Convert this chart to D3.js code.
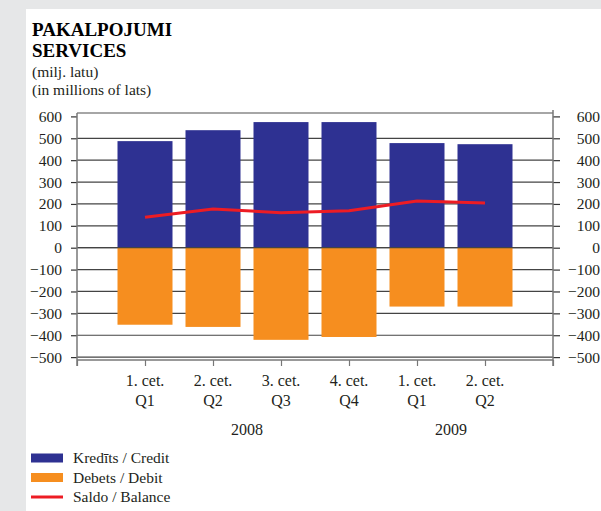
<!DOCTYPE html>
<html>
<head>
<meta charset="utf-8">
<script src="https://cdn.jsdelivr.net/npm/d3@7"></script>
<style>
    body { margin: 0; background: #e6e7e8; }
    svg { display: block; font-family: "Liberation Serif", "DejaVu Serif", serif; }
</style>
</head>
<body>
<svg id="chart" width="601" height="511"></svg>
<script>
// data
const quarters = ['1. cet.', '2. cet.', '3. cet.', '4. cet.', '1. cet.', '2. cet.'];
const quarterEn = ['Q1', 'Q2', 'Q3', 'Q4', 'Q1', 'Q2'];
const years = ['2008', '2009'];
const yearSpan = [[0, 3], [4, 5]];
const credit = [487, 537, 574, 574, 478, 473];
const debit = [-352, -362, -421, -408, -269, -269];
const balance = [139, 177, 160, 169, 213, 204];
const yTicks = [600, 500, 400, 300, 200, 100, 0, -100, -200, -300, -400, -500];
const legendLabels = ['Kredīts / Credit', 'Debets / Debit', 'Saldo / Balance'];
const colors = ['#2e3192', '#f68e1f', '#ed1c24'];

const svg = d3.select('#chart');
const serif = '"Liberation Serif", "DejaVu Serif", serif';

// white panel
svg.append('rect').attr('x', 26).attr('y', 9).attr('width', 575).attr('height', 502).attr('fill', '#fff');

svg.append('text').attr('x', 32).attr('y', 36).attr('font-size', 19).attr('font-weight', 'bold').text('PAKALPOJUMI');
svg.append('text').attr('x', 32).attr('y', 57).attr('font-size', 19).attr('font-weight', 'bold').text('SERVICES');
svg.append('text').attr('x', 32).attr('y', 77).attr('font-size', 15.5).attr('fill', '#231f20').text('(milj. latu)');
svg.append('text').attr('x', 32).attr('y', 95).attr('font-size', 15.5).attr('fill', '#231f20').text('(in millions of lats)');

const plotL = 77, plotR = 553, plotT = 113, plotB = 360;

const x = d3.scaleLinear().domain([0, quarters.length + 1]).range([plotL, plotR]);
const y = d3.scaleLinear().domain([0, 600]).range([247.7, 116.4]);
const barW = 55;

// gridlines
svg.append('g').selectAll('line').data(yTicks.filter(d => d !== 600)).enter().append('line')
    .attr('x1', plotL).attr('x2', plotR)
    .attr('y1', d => y(d)).attr('y2', d => y(d))
    .attr('stroke', '#444').attr('stroke-width', 1.2);

// frame top + bottom
svg.append('line').attr('x1', plotL).attr('x2', plotR).attr('y1', plotT).attr('y2', plotT)
    .attr('stroke', '#888').attr('stroke-width', 1.5);
svg.append('line').attr('x1', plotL).attr('x2', plotR).attr('y1', plotB).attr('y2', plotB)
    .attr('stroke', '#777').attr('stroke-width', 1.5);

// bars
svg.append('g').selectAll('rect').data(credit).enter().append('rect')
    .attr('x', (d, i) => x(i + 1) - barW / 2).attr('width', barW)
    .attr('y', d => y(d)).attr('height', d => y(0) - y(d))
    .attr('fill', colors[0]);
svg.append('g').selectAll('rect').data(debit).enter().append('rect')
    .attr('x', (d, i) => x(i + 1) - barW / 2).attr('width', barW)
    .attr('y', y(0)).attr('height', d => y(d) - y(0))
    .attr('fill', colors[1]);

// zero line on top of bars
svg.append('line').attr('x1', plotL).attr('x2', plotR).attr('y1', y(0)).attr('y2', y(0))
    .attr('stroke', '#444').attr('stroke-width', 1.2);

// balance line
const line = d3.line().x((d, i) => x(i + 1)).y(d => y(d));
svg.append('path').datum(balance).attr('d', line)
    .attr('fill', 'none').attr('stroke', colors[2]).attr('stroke-width', 3);

// y axes, both sides
const fmt = d => d < 0 ? '\u2212' + Math.abs(d) : String(d);
const yAxisL = svg.append('g').attr('transform', 'translate(' + plotL + ',0)')
    .call(d3.axisLeft(y).tickValues(yTicks).tickSize(6).tickPadding(9).tickFormat(fmt));
const yAxisR = svg.append('g').attr('transform', 'translate(' + plotR + ',0)')
    .call(d3.axisRight(y).tickValues(yTicks).tickSize(7).tickPadding(0).tickFormat(fmt));
[yAxisL, yAxisR].forEach(g => {
    g.attr('font-family', serif).attr('font-size', 15.5);
    g.select('.domain').remove();
    g.selectAll('.tick line').attr('stroke', '#333').attr('stroke-width', 1.2);
    g.selectAll('text').attr('fill', '#231f20');
});
yAxisR.selectAll('text').attr('text-anchor', 'end').attr('x', 600 - plotR);

// vertical axis lines
svg.append('line').attr('x1', plotL).attr('x2', plotL).attr('y1', plotT).attr('y2', plotB + 6)
    .attr('stroke', '#777').attr('stroke-width', 1.5);
svg.append('line').attr('x1', plotR).attr('x2', plotR).attr('y1', plotT - 3).attr('y2', plotB + 6)
    .attr('stroke', '#777').attr('stroke-width', 1.5);

// x ticks
const xAxis = svg.append('g').attr('transform', 'translate(0,' + plotB + ')')
    .call(d3.axisBottom(x).tickValues(d3.range(0, quarters.length + 2)).tickSize(6).tickFormat(''));
xAxis.select('.domain').remove();
xAxis.selectAll('.tick line').attr('stroke', '#777').attr('stroke-width', 1.2);

// x labels
const lab = svg.append('g').attr('font-size', 16).attr('fill', '#231f20').attr('text-anchor', 'middle');
lab.selectAll('.q').data(quarters).enter().append('text')
    .attr('x', (d, i) => x(i + 1)).attr('y', 386).text(d => d);
lab.selectAll('.qe').data(quarterEn).enter().append('text')
    .attr('x', (d, i) => x(i + 1)).attr('y', 406).text(d => d);
lab.selectAll('.yr').data(years).enter().append('text')
    .attr('x', (d, i) => (x(yearSpan[i][0] + 1) + x(yearSpan[i][1] + 1)) / 2).attr('y', 435).text(d => d);

// legend
const leg = svg.append('g').attr('font-size', 15.5).attr('fill', '#231f20');
legendLabels.forEach((t, i) => {
    const yy = 458 + i * 19.5;
    if (i < 2) {
        leg.append('rect').attr('x', 31).attr('y', yy - 4.5).attr('width', 32).attr('height', 9).attr('fill', colors[i]);
    } else {
        leg.append('line').attr('x1', 31).attr('x2', 63).attr('y1', yy).attr('y2', yy)
            .attr('stroke', colors[i]).attr('stroke-width', 3);
    }
    leg.append('text').attr('x', 73).attr('y', yy + 5).text(t);
});
</script>
</body>
</html>
